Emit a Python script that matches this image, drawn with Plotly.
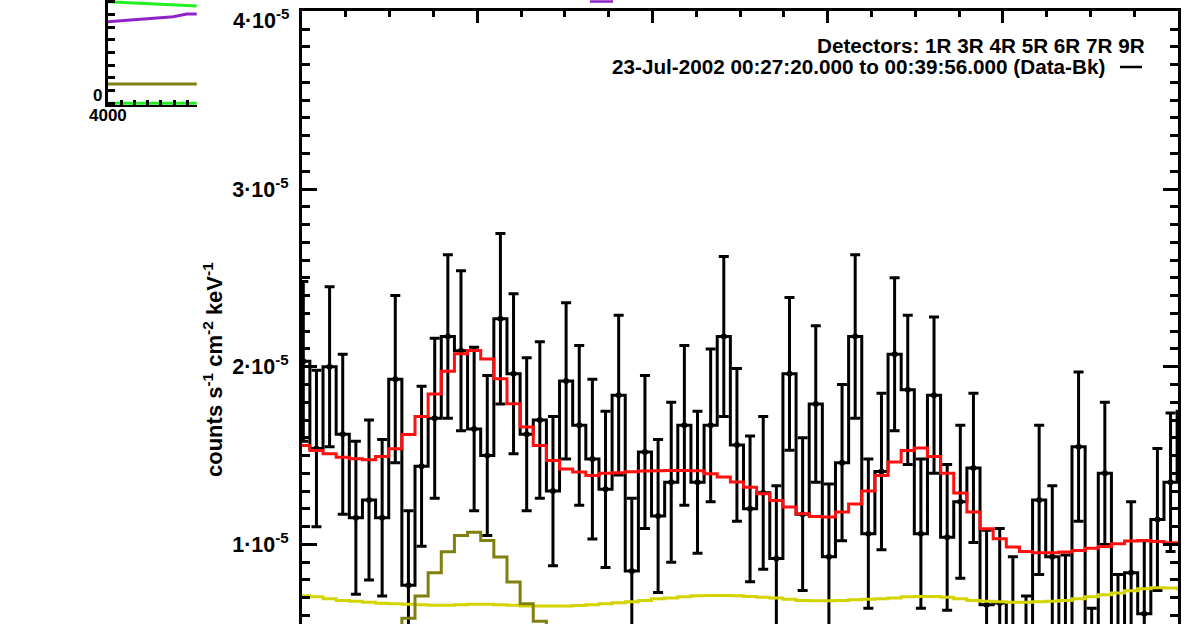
import plotly.graph_objects as go

# ---------------------------------------------------------------------------
# Spectrum: energy channel edges (keV), 7.5 keV wide channels
EDGES_KEV = [
    1997.0, 2004.5, 2012.0, 2019.5, 2027.0, 2034.5, 2042.0, 2049.5, 2057.0, 2064.5,
    2072.0, 2079.5, 2087.0, 2094.5, 2102.0, 2109.5, 2117.0, 2124.5, 2132.0, 2139.5,
    2147.0, 2154.5, 2162.0, 2169.5, 2177.0, 2184.5, 2192.0, 2199.5, 2207.0, 2214.5,
    2222.0, 2229.5, 2237.0, 2244.5, 2252.0, 2259.5, 2267.0, 2274.5, 2282.0, 2289.5,
    2297.0, 2304.5, 2312.0, 2319.5, 2327.0, 2334.5, 2342.0, 2349.5, 2357.0, 2364.5,
    2372.0, 2379.5, 2387.0, 2394.5, 2402.0, 2409.5, 2417.0, 2424.5, 2432.0, 2439.5,
    2447.0, 2454.5, 2462.0, 2469.5, 2477.0, 2484.5, 2492.0, 2499.5, 2507.0,
]

# Background-subtracted flux per channel, units of 1e-5 counts s^-1 cm^-2 keV^-1
FLUX = [
    2.03, 1.54, 2.00, 1.62, 1.15, 1.25, 1.15, 1.93, 0.77, 1.44,
    1.71, 2.17, 2.09, 1.65, 1.50, 2.27, 1.96, 1.62, 1.70, 1.30,
    1.92, 1.67, 1.48, 1.31, 1.84, 0.85, 1.52, 1.16, 1.35, 1.67,
    1.35, 1.67, 2.17, 1.56, 1.20, 1.29, 0.92, 1.96, 1.17, 1.79,
    0.93, 1.46, 2.17, 1.06, 1.41, 2.07, 1.87, 1.06, 1.84, 1.04,
    1.24, 1.43, 0.66, 0.67, 0.51, 0.29, 1.25, 0.93, 0.52, 1.55,
    0.22, 1.40, 0.43, 0.84, 0.61, 1.14, 1.35, 1.75,
]
FLUX_ERR = [
    0.45, 0.44, 0.45, 0.45, 0.43, 0.45, 0.44, 0.47, 0.42, 0.45,
    0.45, 0.46, 0.45, 0.46, 0.45, 0.48, 0.45, 0.43, 0.44, 0.42,
    0.44, 0.45, 0.45, 0.44, 0.45, 0.41, 0.43, 0.43, 0.45, 0.45,
    0.40, 0.43, 0.45, 0.43, 0.41, 0.43, 0.41, 0.43, 0.43, 0.44,
    0.41, 0.44, 0.46, 0.42, 0.44, 0.43, 0.42, 0.42, 0.44, 0.41,
    0.43, 0.42, 0.42, 0.42, 0.42, 0.42, 0.42, 0.40, 0.42, 0.42,
    0.42, 0.40, 0.40, 0.40, 0.41, 0.40, 0.39, 0.40,
]

# Fitted model: total, continuum and line component (same units)
FIT_TOTAL = [
    1.557, 1.528, 1.510, 1.491, 1.482, 1.476, 1.495, 1.538, 1.618, 1.720,
    1.847, 1.975, 2.073, 2.091, 2.044, 1.932, 1.791, 1.660, 1.557, 1.472,
    1.425, 1.407, 1.388, 1.400, 1.403, 1.409, 1.413, 1.414, 1.416, 1.416,
    1.414, 1.397, 1.379, 1.351, 1.322, 1.285, 1.247, 1.210, 1.172, 1.157,
    1.154, 1.182, 1.228, 1.300, 1.388, 1.463, 1.528, 1.542, 1.495, 1.401,
    1.289, 1.182, 1.088, 1.032, 0.985, 0.960, 0.953, 0.953, 0.957, 0.966,
    0.979, 0.988, 1.003, 1.019, 1.022, 1.016, 1.009, 1.005,
]
FIT_CONTINUUM = [
    0.711, 0.705, 0.694, 0.685, 0.680, 0.674, 0.669, 0.666, 0.663, 0.660,
    0.657, 0.657, 0.660, 0.663, 0.663, 0.660, 0.657, 0.654, 0.654, 0.654,
    0.654, 0.656, 0.660, 0.666, 0.671, 0.677, 0.685, 0.694, 0.699, 0.705,
    0.711, 0.712, 0.712, 0.711, 0.707, 0.702, 0.698, 0.691, 0.685, 0.683,
    0.683, 0.685, 0.688, 0.691, 0.694, 0.699, 0.705, 0.707, 0.707, 0.702,
    0.694, 0.685, 0.680, 0.677, 0.675, 0.675, 0.677, 0.680, 0.685, 0.694,
    0.705, 0.716, 0.727, 0.739, 0.750, 0.756, 0.754, 0.750,
]
FIT_LINE = [
    0.00, 0.00, 0.01, 0.03, 0.08, 0.16, 0.30, 0.45, 0.585, 0.709,
    0.840, 0.958, 1.050, 1.069, 1.022, 0.929, 0.788, 0.666, 0.568, 0.45,
    0.30, 0.16, 0.08, 0.03, 0.01, 0.00, 0.00, 0.00, 0.00, 0.00,
    0.00, 0.00, 0.00, 0.00, 0.00, 0.00, 0.00, 0.00, 0.00, 0.00,
    0.00, 0.00, 0.00, 0.00, 0.00, 0.00, 0.00, 0.00, 0.00, 0.00,
    0.00, 0.00, 0.00, 0.00, 0.00, 0.00, 0.00, 0.00, 0.00, 0.00,
    0.00, 0.00, 0.00, 0.00, 0.00, 0.00, 0.00, 0.00,
]

# Labelled major ticks; the top one sits just under the frame
Y_TICKS = [1, 2, 3]
Y_TICK_TEXT = ["1\u00b710<sup>-5</sup>", "2\u00b710<sup>-5</sup>",
               "3\u00b710<sup>-5</sup>"]
Y_TOP = 4
Y_TOP_TEXT = "4\u00b710<sup>-5</sup>"

DETECTORS = "Detectors: 1R 3R 4R 5R 6R 7R 9R"
INTERVAL = "23-Jul-2002 00:27:20.000 to 00:39:56.000 (Data-Bk)"

# Small time-profile panel (top left)
INSET_T = [4000.0, 4019.2, 4034.3, 4049.3, 4059.4, 4066.9]
INSET_GREEN_HI = [8.00, 7.92, 7.84, 7.76, 7.71, 7.66]
INSET_PURPLE = [6.43, 6.56, 6.69, 6.82, 7.03, 7.03]
INSET_OLIVE = [1.52, 1.52, 1.52, 1.52, 1.52, 1.52]
INSET_GREEN_LO = [0.0, 0.0, 0.0, 0.0, 0.0, 0.0]

SCALE = 1e-5
W, H = 1188, 624

FONT = "Liberation Sans"
BLACK = "#000000"
RED = "#ff1010"
YELLOW = "#d4d400"
OLIVE = "#808010"
GREEN = "#22ee22"
PURPLE = "#8e24c8"

centers = [(a + b) / 2 for a, b in zip(EDGES_KEV[:-1], EDGES_KEV[1:])]


def step_y(values):
    """Histogram levels for an 'hv' step line drawn over the channel edges."""
    return [v * SCALE for v in values] + [values[-1] * SCALE]


def px_x(p):
    return p / W


def px_y(p):
    return 1 - p / H


fig = go.Figure()

# data histogram
fig.add_trace(go.Scatter(
    x=EDGES_KEV, y=step_y(FLUX), mode="lines", line_shape="hv",
    line=dict(color=BLACK, width=3), xaxis="x", yaxis="y", showlegend=False,
))
# error bars at channel centres
fig.add_trace(go.Scatter(
    x=centers, y=[v * SCALE for v in FLUX], mode="markers",
    marker=dict(size=0, color=BLACK),
    error_y=dict(type="data", array=[e * SCALE for e in FLUX_ERR], visible=True,
                 color=BLACK, thickness=3, width=5),
    xaxis="x", yaxis="y", showlegend=False,
))
# model components
for vals, col in ((FIT_CONTINUUM, YELLOW), (FIT_LINE, OLIVE), (FIT_TOTAL, RED)):
    fig.add_trace(go.Scatter(
        x=EDGES_KEV, y=step_y(vals), mode="lines", line_shape="hv",
        line=dict(color=col, width=3), xaxis="x", yaxis="y", showlegend=False,
    ))

# inset lines
for vals, col in ((INSET_GREEN_HI, GREEN), (INSET_PURPLE, PURPLE),
                  (INSET_OLIVE, OLIVE), (INSET_GREEN_LO, GREEN)):
    fig.add_trace(go.Scatter(
        x=INSET_T, y=vals, mode="lines", line=dict(color=col, width=3),
        xaxis="x2", yaxis="y2", showlegend=False,
    ))

y_top_px = 11.3
px_per_unit = 177.7
y_lo = Y_TOP - (H - y_top_px) / px_per_unit

axis_font = dict(family=FONT, size=21.5, color=BLACK, weight="bold")

fig.update_layout(
    width=W, height=H,
    margin=dict(l=0, r=0, t=0, b=0, autoexpand=False),
    paper_bgcolor="white", plot_bgcolor="white",
    font=dict(family=FONT, color=BLACK),
    xaxis=dict(
        domain=[px_x(302), px_x(1178)], range=[2000, 2500], anchor="y",
        side="top", showline=True, linecolor=BLACK, linewidth=3, mirror=False,
        ticks="inside", tick0=2000, dtick=100, ticklen=12, tickwidth=2.5,
        tickcolor=BLACK, showticklabels=False, showgrid=False, zeroline=False,
        automargin=False,
        minor=dict(ticks="inside", dtick=25, ticklen=6, tickwidth=2.5,
                   tickcolor=BLACK, showgrid=False),
    ),
    yaxis=dict(
        domain=[0, px_y(y_top_px)], range=[y_lo * SCALE, Y_TOP * SCALE], anchor="x",
        showline=True, linecolor=BLACK, linewidth=3, mirror="ticks",
        ticks="inside", tickvals=[t * SCALE for t in Y_TICKS], ticktext=Y_TICK_TEXT,
        ticklen=15, tickwidth=2.5, tickcolor=BLACK, tickfont=axis_font,
        ticklabelstandoff=6, automargin=False,
        showgrid=False, zeroline=False,
        minor=dict(ticks="inside", tick0=0, dtick=0.1 * SCALE, ticklen=8,
                   tickwidth=2.5, tickcolor=BLACK, showgrid=False),
    ),
    xaxis2=dict(
        domain=[px_x(107.7), px_x(197)], range=[4000, 4067.1], anchor="y2",
        showline=True, linecolor=BLACK, linewidth=1.5, ticks="inside",
        tick0=4000, dtick=10, ticklen=5, tickwidth=2.5, tickcolor=BLACK,
        showticklabels=False, showgrid=False, zeroline=False, automargin=False,
    ),
    yaxis2=dict(
        domain=[px_y(105.0), 1], range=[-0.134, 8.134], anchor="x2",
        showline=True, linecolor=BLACK, linewidth=3, ticks="inside",
        tick0=0, dtick=1, ticklen=7, tickwidth=2.5, tickcolor=BLACK,
        showticklabels=False, showgrid=False, zeroline=False, automargin=False,
    ),
)

# top y label, set just below the frame so it stays inside the page
fig.add_annotation(
    x=px_x(291), y=px_y(19), xref="paper", yref="paper", showarrow=False,
    text=Y_TOP_TEXT, font=axis_font, xanchor="right", yanchor="middle",
)

fig.add_annotation(
    x=px_x(213), y=px_y(370), xref="paper", yref="paper", showarrow=False,
    text="counts s<sup>-1</sup> cm<sup>-2</sup> keV<sup>-1</sup>", textangle=-90,
    font=dict(family=FONT, size=22, color=BLACK, weight="bold"),
    xanchor="center", yanchor="middle",
)
legend_font = dict(family=FONT, size=20.7, color=BLACK, weight="bold")
fig.add_annotation(
    x=px_x(1147), y=px_y(46), xref="paper", yref="paper", showarrow=False,
    text=DETECTORS, font=legend_font, xanchor="right", yanchor="middle",
)
fig.add_annotation(
    x=px_x(1107), y=px_y(67), xref="paper", yref="paper", showarrow=False,
    text=INTERVAL, font=legend_font, xanchor="right", yanchor="middle",
)
fig.add_shape(type="line", xref="paper", yref="paper",
              x0=px_x(1120), x1=px_x(1142), y0=px_y(67), y1=px_y(67),
              line=dict(color=BLACK, width=2.5))

# inset labels
inset_font = dict(family=FONT, size=17, color=BLACK, weight="bold")
fig.add_annotation(
    x=px_x(104), y=px_y(95), xref="paper", yref="paper", showarrow=False,
    text="0", font=inset_font, xanchor="right", yanchor="middle",
)
fig.add_annotation(
    x=px_x(107.7), y=px_y(115.5), xref="paper", yref="paper", showarrow=False,
    text="4000", font=inset_font, xanchor="center", yanchor="middle",
)

# colour key bar from the heading line
fig.add_shape(type="line", xref="paper", yref="paper",
              x0=px_x(590), x1=px_x(613), y0=px_y(1.5), y1=px_y(1.5),
              line=dict(color=PURPLE, width=2.5))

fig.write_html("out.html")
